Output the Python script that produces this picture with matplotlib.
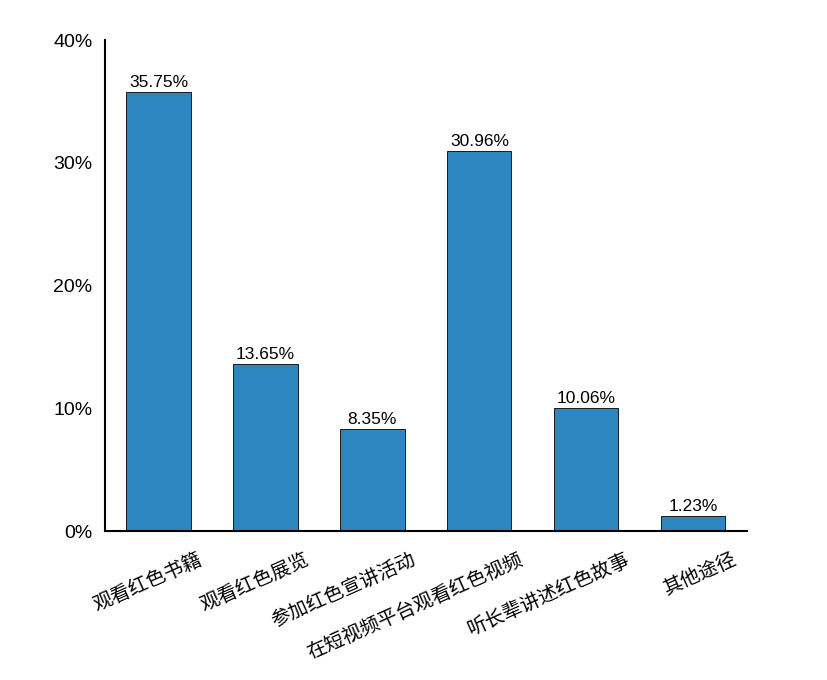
import numpy as np
import matplotlib.pyplot as plt
import matplotlib.transforms as mtransforms
from matplotlib.ticker import PercentFormatter

plt.rcParams['font.family'] = ['Noto Sans CJK SC', 'DejaVu Sans']

categories = ["观看红色书籍", "观看红色展览", "参加红色宣讲活动",
              "在短视频平台观看红色视频", "听长辈讲述红色故事", "其他途径"]
values = [35.75, 13.65, 8.35, 30.96, 10.06, 1.23]

fig = plt.figure(figsize=(8.27, 6.8), dpi=100)
ax = fig.add_axes([0.127, 0.219, 0.776, 0.722])

x = np.arange(len(categories))
bars = ax.bar(x, values, 0.6, color='#2e86c1', edgecolor='black', linewidth=0.6)

for xi, v in zip(x, values):
    ax.text(xi, v + 0.15, f"{v:.2f}%", ha='center', va='bottom',
            fontsize=12.5, family=['Liberation Sans', 'DejaVu Sans'])

ax.set_xlim(-0.5, 5.5)
ax.set_ylim(0, 40)
ax.set_yticks([0, 10, 20, 30, 40])
ax.yaxis.set_major_formatter(PercentFormatter(decimals=0))
ax.set_xticks(x)
ax.tick_params(length=0)
ax.tick_params(axis='y', pad=9)
ax.tick_params(axis='x', pad=13)
ax.set_xticklabels(categories, rotation=24, ha='right', va='top',
                   rotation_mode='anchor', fontsize=14)
# labels sit a bit to the right of their ticks, as in the original
shift = mtransforms.ScaledTranslation(38 / 100, 0, fig.dpi_scale_trans)
for lbl in ax.get_xticklabels():
    lbl.set_transform(lbl.get_transform() + shift)
for lbl in ax.get_yticklabels():
    lbl.set_family(['Liberation Sans', 'DejaVu Sans'])
    lbl.set_fontsize(14)

ax.spines['top'].set_visible(False)
ax.spines['right'].set_visible(False)
ax.spines['left'].set_linewidth(1.5)
ax.spines['bottom'].set_linewidth(1.5)

fig.savefig('out.png', dpi=100)
